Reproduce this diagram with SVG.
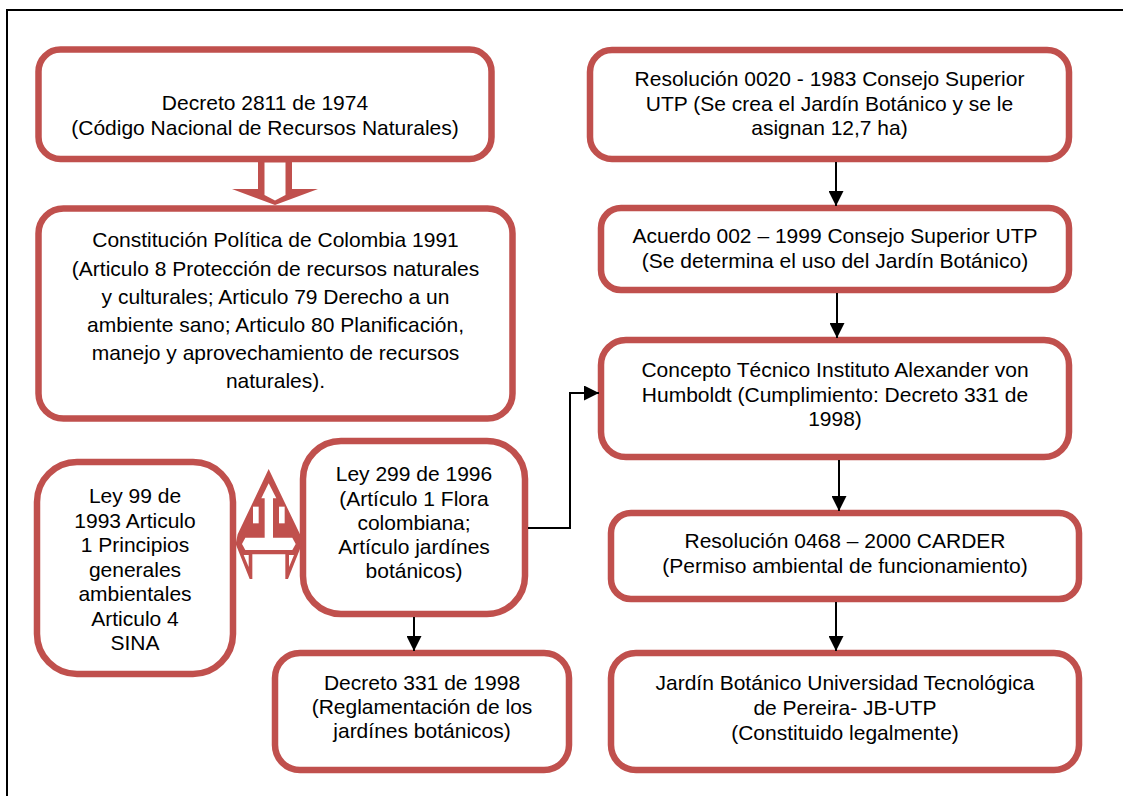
<svg xmlns="http://www.w3.org/2000/svg" width="1123" height="796" viewBox="0 0 1123 796">
<defs>
<style>
.box{fill:#FFFFFF;stroke:#C0504D;stroke-width:6.5}
.t{font-family:"Liberation Sans",Arial,sans-serif;font-size:21px;fill:#000000;text-anchor:middle}
.con{fill:none;stroke:#000000;stroke-width:2}
.red{fill:#C0504D}
.wh{fill:#FFFFFF}
</style>
<marker id="ah" viewBox="0 0 10 10" refX="10" refY="5" markerWidth="15" markerHeight="15" markerUnits="userSpaceOnUse" orient="auto">
<path d="M0,0 L10,5 L0,10 Z" fill="#000000"/>
</marker>
</defs>
<rect x="0" y="0" width="1123" height="796" fill="#FFFFFF"/>
<g id="frame">
<path d="M7,796 L7,10 L1123,10" fill="none" stroke="#000000" stroke-width="2"/>
</g>

<g id="n-decreto2811">
<rect class="box" x="38.5" y="49.5" width="453" height="109.5" rx="22"/>
<text class="t" x="265" y="110">Decreto 2811 de 1974</text>
<text class="t" x="265" y="135">(Código Nacional de Recursos Naturales)</text>
</g>

<g id="n-constitucion">
<rect class="box" x="38.5" y="208.5" width="474" height="210" rx="25"/>
<text class="t" x="275.5" y="247">Constitución Política de Colombia 1991</text>
<text class="t" x="275.5" y="275.5">(Articulo 8 Protección de recursos naturales</text>
<text class="t" x="275.5" y="303.5">y culturales; Articulo 79 Derecho a un</text>
<text class="t" x="275.5" y="331.5">ambiente sano; Articulo 80 Planificación,</text>
<text class="t" x="275.5" y="359.5">manejo y aprovechamiento de recursos</text>
<text class="t" x="275.5" y="388">naturales).</text>
</g>

<g id="n-ley99">
<rect class="box" x="37" y="462" width="196" height="212" rx="40"/>
<text class="t" x="135" y="503">Ley 99 de</text>
<text class="t" x="135" y="527.5">1993 Articulo</text>
<text class="t" x="135" y="552">1 Principios</text>
<text class="t" x="135" y="576.5">generales</text>
<text class="t" x="135" y="601">ambientales</text>
<text class="t" x="135" y="625.5">Articulo 4</text>
<text class="t" x="135" y="650">SINA</text>
</g>

<g id="n-ley299">
<rect class="box" x="303" y="441" width="222" height="173" rx="38"/>
<text class="t" x="414" y="481">Ley 299 de 1996</text>
<text class="t" x="414" y="505.5">(Artículo 1 Flora</text>
<text class="t" x="414" y="530">colombiana;</text>
<text class="t" x="414" y="554">Artículo jardínes</text>
<text class="t" x="414" y="578">botánicos)</text>
</g>

<g id="n-decreto331">
<rect class="box" x="275" y="653" width="294" height="117" rx="25"/>
<text class="t" x="422" y="690">Decreto 331 de 1998</text>
<text class="t" x="422" y="714">(Reglamentación de los</text>
<text class="t" x="422" y="738">jardínes botánicos)</text>
</g>

<g id="n-res0020">
<rect class="box" x="590" y="50" width="479" height="109" rx="22"/>
<text class="t" x="829.5" y="86">Resolución 0020 - 1983 Consejo Superior</text>
<text class="t" x="829.5" y="110.5">UTP (Se crea el Jardín Botánico y se le</text>
<text class="t" x="829.5" y="135">asignan 12,7 ha)</text>
</g>

<g id="n-acuerdo">
<rect class="box" x="601" y="208" width="468" height="82" rx="20"/>
<text class="t" x="835" y="243">Acuerdo 002 – 1999 Consejo Superior UTP</text>
<text class="t" x="835" y="268">(Se determina el uso del Jardín Botánico)</text>
</g>

<g id="n-concepto">
<rect class="box" x="601" y="340" width="468" height="117" rx="25"/>
<text class="t" x="835" y="377">Concepto Técnico Instituto Alexander von</text>
<text class="t" x="835" y="401.5">Humboldt (Cumplimiento: Decreto 331 de</text>
<text class="t" x="835" y="426">1998)</text>
</g>

<g id="n-res0468">
<rect class="box" x="611" y="513" width="468" height="86" rx="20"/>
<text class="t" x="845" y="548">Resolución 0468 – 2000 CARDER</text>
<text class="t" x="845" y="573">(Permiso ambiental de funcionamiento)</text>
</g>

<g id="n-jardin">
<rect class="box" x="611" y="653" width="468" height="117" rx="25"/>
<text class="t" x="845" y="690">Jardín Botánico Universidad Tecnológica</text>
<text class="t" x="845" y="715">de Pereira- JB-UTP</text>
<text class="t" x="845" y="740">(Constituido legalmente)</text>
</g>

<g id="connectors">
<g id="block-down">
<polygon class="red" points="258,160 258,189 232,189 275,205 318,189 292,189 292,160"/>
<polygon class="wh" points="264.5,162.5 285.5,162.5 285.5,195 275,200.5 264.5,195"/>
</g>
<g id="block-leftrightup" transform="translate(228,465) scale(0.33333)">
<polygon class="red" points="122,12 216,208 222,237 180,342 172,342 172,268 73,268 73,342 65,342 23,237 29,208"/>
<polygon class="wh" points="122,55 145,100 100,100"/>
<rect class="wh" x="110" y="98" width="25" height="122"/>
<polygon class="wh" points="42,237 52,218 193,218 203,237 193,255 52,255"/>
<rect class="wh" x="75" y="125" width="17" height="50"/>
<rect class="wh" x="153" y="125" width="17" height="50"/>
<polygon class="wh" points="47,270 62,270 62,306"/>
<polygon class="wh" points="198,270 183,270 183,306"/>
</g>
<line class="con" x1="836" y1="162" x2="836" y2="206" marker-end="url(#ah)"/>
<line class="con" x1="837" y1="293" x2="837" y2="338" marker-end="url(#ah)"/>
<line class="con" x1="839" y1="460" x2="839" y2="511" marker-end="url(#ah)"/>
<line class="con" x1="836" y1="602" x2="836" y2="651" marker-end="url(#ah)"/>
<line class="con" x1="414" y1="617" x2="414" y2="651" marker-end="url(#ah)"/>
<polyline class="con" points="528,528 570,528 570,393 599,393" marker-end="url(#ah)"/>
</g>
</svg>
